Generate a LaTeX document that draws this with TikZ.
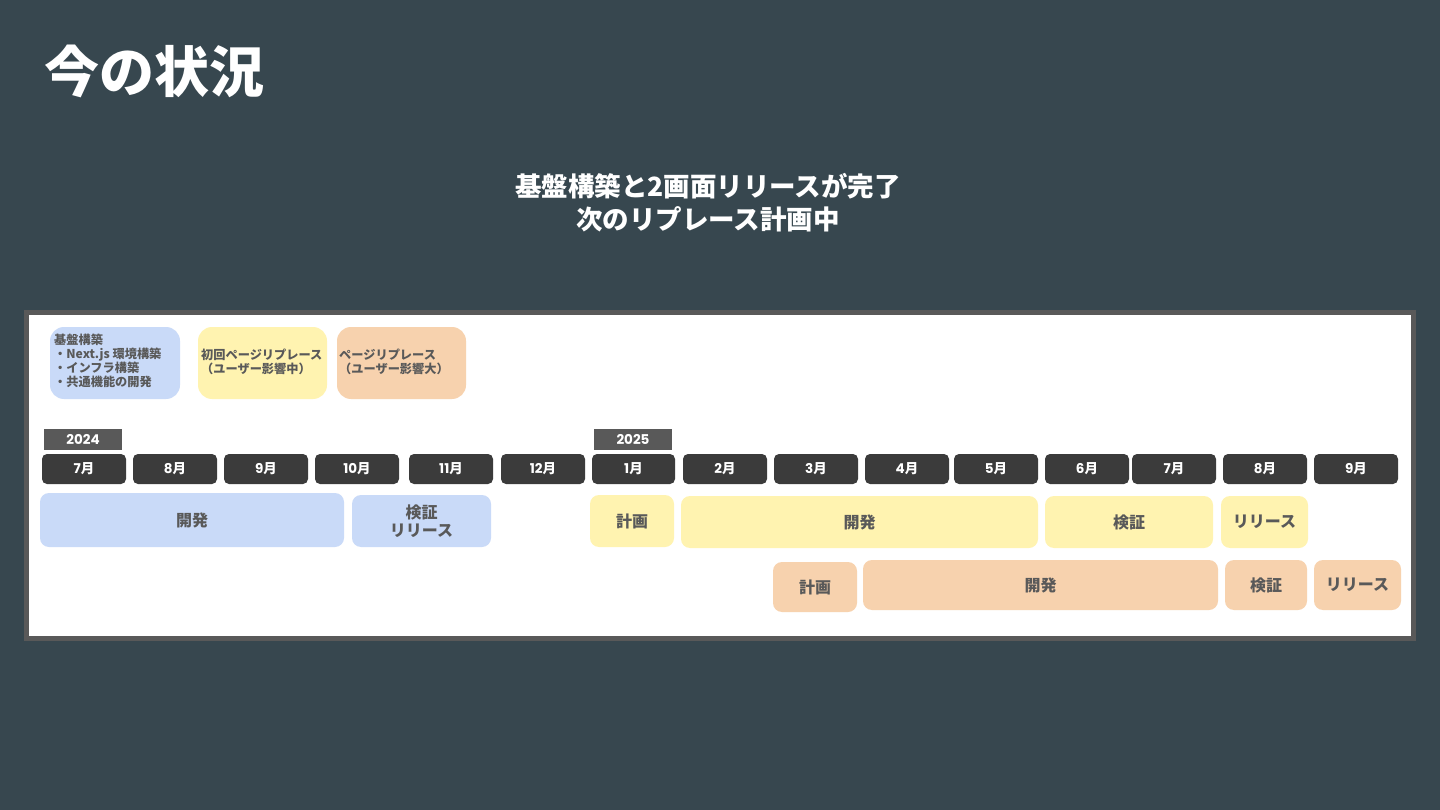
\documentclass[tikz,border=0pt]{standalone}
\usepackage{fontspec}
\setmainfont{Noto Sans CJK JP}
\newfontfamily\pop{Poppins}
\definecolor{bgc}{HTML}{37474F}
\definecolor{frame}{HTML}{595959}
\definecolor{cblue}{HTML}{C9DAF8}
\definecolor{cyel}{HTML}{FFF3B0}
\definecolor{corg}{HTML}{F7D2AE}
\definecolor{mon}{HTML}{3B3B3B}
\definecolor{txt}{HTML}{595959}
\tikzset{
  bar/.style={rounded corners=9pt, inner sep=0pt, text=txt, font=\fontsize{16}{18.5}\selectfont\bfseries, align=center},
  month/.style={rounded corners=5pt, fill=mon, inner sep=0pt, minimum height=30pt, minimum width=84pt, text=white, font=\fontsize{13.5}{15}\selectfont\bfseries},
  yeartag/.style={fill=frame, inner sep=0pt, minimum height=21pt, minimum width=78pt, text=white, font=\pop\fontsize{13.5}{15}\selectfont\bfseries},
  legend/.style={rounded corners=14pt, inner sep=0pt, minimum width=130pt, minimum height=72pt},
  legtext/.style={inner sep=0pt, text=txt, align=left, font=\fontsize{12.2}{14}\selectfont\bfseries},
  title/.style={text=white, inner sep=0pt, font=\fontsize{55}{60}\selectfont\bfseries},
  subtitle/.style={text=white, inner sep=0pt, align=center, font=\fontsize{26.5}{33}\selectfont\bfseries}
}
\newcommand{\mn}[1]{{\pop #1}月}
\begin{document}
\begin{tikzpicture}[x=1pt,y=-1pt]
\fill[bgc] (0,0) rectangle (1440,810);
\useasboundingbox (0,0) rectangle (1440,810);
\node[title, anchor=west] (title) at (44,71) {今の状況};
\node[subtitle] (sub) at (708,203) {基盤構築と2画面リリースが完了\\次のリプレース計画中};
\draw[frame, line width=5pt, fill=white] (26.5,312.5) rectangle (1413.5,638.5);
% legend
\node[legend, fill=cblue] (lg1) at (115,363) {};
\node[legtext, anchor=north west] (lt1) at (54,334) {基盤構築\\・Next.js 環境構築\\・インフラ構築\\・共通機能の開発};
\node[legend, fill=cyel, minimum width=129pt] (lg2) at (262.5,363) {};
\node[legtext, anchor=west] (lt2) at (201,362) {初回ページリプレース\\（ユーザー影響中）};
\node[legend, fill=corg, minimum width=129pt] (lg3) at (401.5,363) {};
\node[legtext, anchor=west] (lt3) at (339,362) {ページリプレース\\（ユーザー影響大）};
% years
\node[yeartag] (y24) at (83,439.5) {2024};
\node[yeartag] (y25) at (633,439.5) {2025};
% months
\node[month] (m7) at (84,469) {\mn{7}};
\node[month] (m8) at (175,469) {\mn{8}};
\node[month] (m9) at (266,469) {\mn{9}};
\node[month] (m10) at (357,469) {\mn{10}};
\node[month] (m11) at (451,469) {\mn{11}};
\node[month] (m12) at (543,469) {\mn{12}};
\node[month, minimum width=83pt] (n1) at (633.5,469) {\mn{1}};
\node[month] (n2) at (725,469) {\mn{2}};
\node[month] (n3) at (816,469) {\mn{3}};
\node[month] (n4) at (907,469) {\mn{4}};
\node[month] (n5) at (996,469) {\mn{5}};
\node[month] (n6) at (1087,469) {\mn{6}};
\node[month] (n7) at (1174,469) {\mn{7}};
\node[month] (n8) at (1265,469) {\mn{8}};
\node[month] (n9) at (1356,469) {\mn{9}};
% row 1
\node[bar, fill=cblue, minimum width=304pt, minimum height=54pt] (b1) at (192,520) {開発};
\node[bar, fill=cblue, minimum width=139pt, minimum height=52pt] (b2) at (421.5,521) {検証\\リリース};
\node[bar, fill=cyel, minimum width=84pt, minimum height=52pt] (c1) at (632,521) {計画};
\node[bar, fill=cyel, minimum width=357pt, minimum height=52pt] (c2) at (859.5,522) {開発};
\node[bar, fill=cyel, minimum width=168pt, minimum height=52pt] (c3) at (1129,522) {検証};
\node[bar, fill=cyel, minimum width=87pt, minimum height=52pt] (c4) at (1264.5,522) {リリース};
% row 2
\node[bar, fill=corg, minimum width=84pt, minimum height=50pt] (d1) at (815,587) {計画};
\node[bar, fill=corg, minimum width=355pt, minimum height=50pt] (d2) at (1040.5,585) {開発};
\node[bar, fill=corg, minimum width=82pt, minimum height=50pt] (d3) at (1266,585) {検証};
\node[bar, fill=corg, minimum width=87pt, minimum height=50pt] (d4) at (1357.5,585) {リリース};
\end{tikzpicture}
\end{document}
